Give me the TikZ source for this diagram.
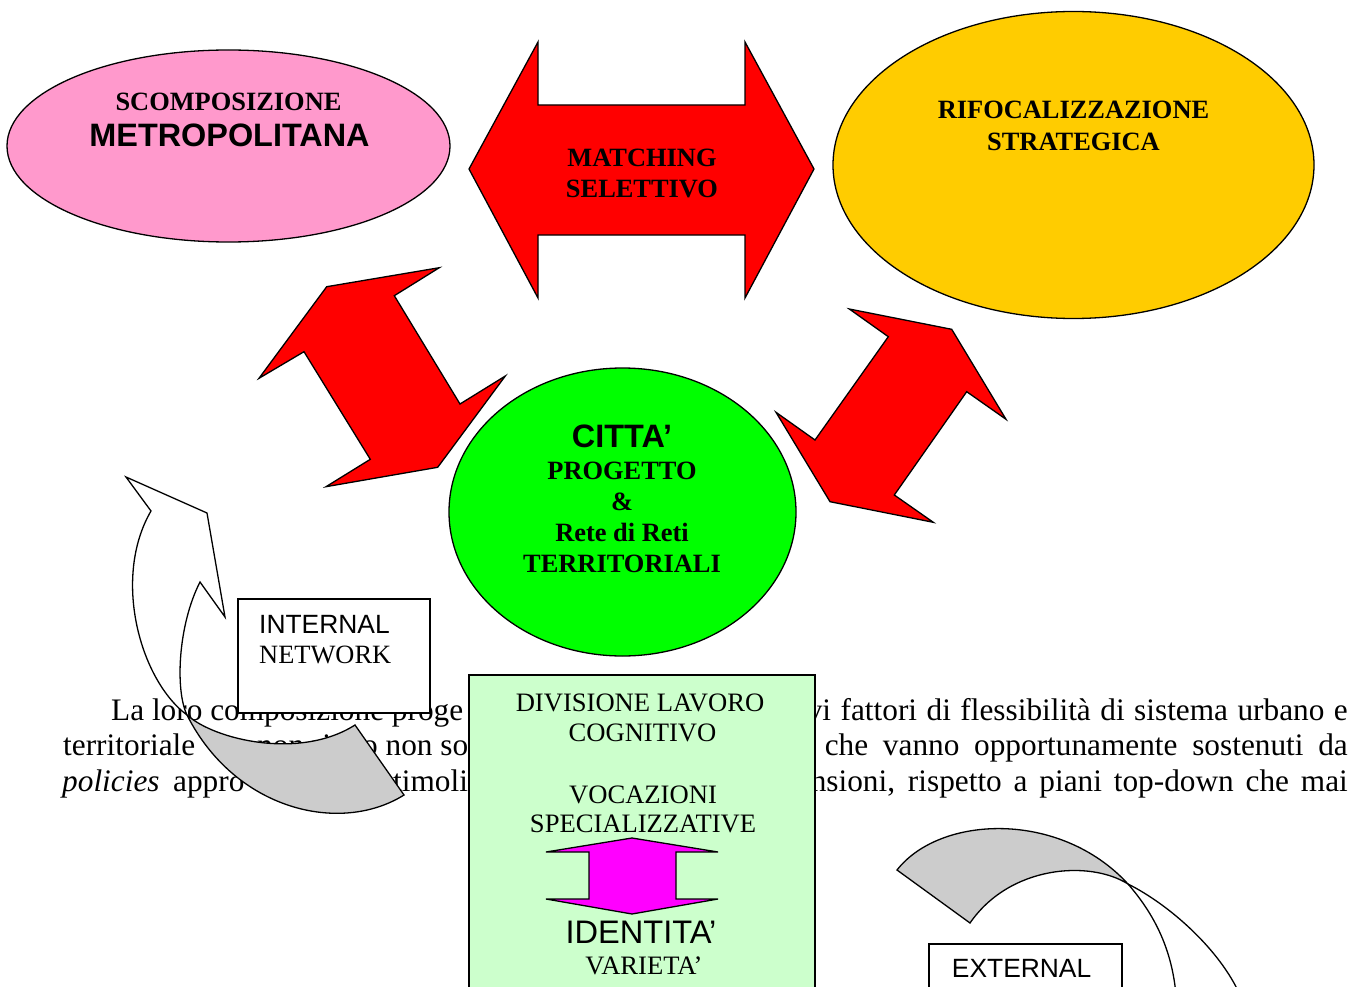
\documentclass[tikz,border=0pt]{standalone}
\usepackage{fontspec}
\setmainfont{Liberation Serif}
\newfontfamily\arialf{Liberation Sans}
\usetikzlibrary{shapes.geometric}
\definecolor{pinkf}{HTML}{FF99CC}
\definecolor{yellowf}{HTML}{FFCC00}
\definecolor{greenf}{HTML}{00FF00}
\definecolor{lgreenf}{HTML}{CCFFCC}
\definecolor{magentaf}{HTML}{FF00FF}
\definecolor{grayf}{HTML}{CCCCCC}
\definecolor{redf}{HTML}{FF0000}
\begin{document}
\begin{tikzpicture}[x=1pt,y=-1pt,
  shp/.style={draw=black,line width=1.3pt,line join=miter},
  lbl/.style={anchor=base,inner sep=0pt,font=\fontsize{26.4}{30}\selectfont\bfseries},
  lbr/.style={anchor=base,inner sep=0pt,font=\fontsize{26.6}{30}\selectfont},
  big/.style={anchor=base,inner sep=0pt,font=\arialf\bfseries\fontsize{32.4}{36}\selectfont},
  sansr/.style={anchor=base west,inner sep=0pt,font=\arialf\fontsize{26.4}{30}\selectfont},
  body/.style={anchor=base west,inner sep=0pt,font=\fontsize{31.3}{36}\selectfont},
  bodyr/.style={anchor=base east,inner sep=0pt,font=\fontsize{31.3}{36}\selectfont},
]
\useasboundingbox (0,0) rectangle (1365,987);
\clip (0,0) rectangle (1365,987);

% background paragraph
\node[body] (p1a) at (111,720) {La loro composizione proge};
\node[bodyr] (p1b) at (1348,720) {\makebox[541pt][s]{vi fattori di flessibilità di sistema urbano e}};
\node[body] (p2a) at (63,755) {territoriale};
\node[body] (p2b) at (257,755) {non ri};
\node[body] (p2c) at (362,755) {o non so};
\node[bodyr] (p2d) at (1348,755) {\makebox[523pt][s]{che vanno opportunamente sostenuti da}};
\node[body] (p3a) at (62,791) {\itshape policies};
\node[body] (p3b) at (173,791) {appro};
\node[body] (p3c) at (393,791) {timoli};
\node[bodyr] (p3d) at (1348,791) {\makebox[537pt][s]{nsioni, rispetto a piani top-down che mai}};

% ellipses
\node[shp,fill=pinkf,ellipse,minimum width=443pt,minimum height=192pt,inner sep=0pt] (scomp) at (228.5,146) {};
\node[shp,fill=yellowf,ellipse,minimum width=481pt,minimum height=307pt,inner sep=0pt] (rifo) at (1073.5,165) {};
\node[shp,fill=greenf,ellipse,minimum width=347pt,minimum height=288pt,inner sep=0pt] (citta) at (622.5,512) {};

% red double arrows
\draw[shp,fill=redf] (469,169) -- (538,42) -- (538,105) -- (745,105) -- (745,42) -- (814,169)
  -- (745,298) -- (745,235) -- (538,235) -- (538,298) -- cycle;
\draw[shp,fill=redf] (326.7,286.7) -- (439.3,267.7) -- (394.3,295.7) -- (460,404) -- (505.3,376)
  -- (437.7,467.3) -- (326,486.7) -- (370.3,459.3) -- (304,351.7) -- (259,378.3) -- cycle;
\draw[shp,fill=redf] (849.3,309) -- (951.7,329.3) -- (1006,419.3) -- (966.7,391.7) -- (894.3,495)
  -- (933.3,522.3) -- (830,501.7) -- (776,412.3) -- (815,440) -- (888.3,336.7) -- cycle;

% internal curved arrow
\draw[shp,fill=white] (151,511) .. controls (112,578) and (140,680) .. (187,715)
  .. controls (175,690) and (178,625) .. (200,582) -- (225,617) -- (207,513) -- (126,477) -- cycle;
\draw[shp,fill=grayf] (187,715) .. controls (215,740) and (300,760) .. (355,725) -- (404,795)
  .. controls (340,835) and (235,810) .. (187,715) -- cycle;

% internal network box
\node[shp,fill=white,minimum width=192pt,minimum height=114pt,inner sep=0pt] (intbox) at (334,656) {};
\node[sansr] (intA) at (259,633.5) {INTERNAL};
\node[body,font=\fontsize{26.4}{30}\selectfont] (intB) at (259,663) {NETWORK};

% light green box
\node[shp,fill=lgreenf,minimum width=346pt,minimum height=330pt,inner sep=0pt] (divbox) at (642,840) {};
\node[lbr] (d1) at (640,711) {DIVISIONE LAVORO};
\node[lbr] (d2) at (642.5,741) {COGNITIVO};
\node[lbr] (d3) at (643,803) {VOCAZIONI};
\node[lbr] (d4) at (643,832) {SPECIALIZZATIVE};
\draw[shp,fill=magentaf] (546,852) -- (632,838) -- (718,852) -- (676,852) -- (676,899) -- (718,899)
  -- (632,914) -- (546,899) -- (589,899) -- (589,852) -- cycle;
\node[anchor=base,inner sep=0pt,font=\arialf\fontsize{32.6}{36}\selectfont] (d5) at (641,943) {IDENTITA’};
\node[lbr] (d6) at (644,974) {VARIETA’};

% external curved arrow
\draw[shp,fill=grayf] (897,870) .. controls (940,815) and (1060,810) .. (1128,884)
  .. controls (1090,860) and (1010,865) .. (970,923) -- cycle;
\coordinate (ex1) at (1176,995);
\coordinate (ex2) at (1240,995);
\draw[shp] (1128,884) .. controls (1155,915) and (1172,950) .. (ex1);
\draw[shp] (1128,884) .. controls (1170,905) and (1220,950) .. (ex2);

% external box
\node[shp,fill=white,minimum width=193pt,minimum height=100pt,inner sep=0pt] (extbox) at (1025.5,994) {};
\node[sansr] (extA) at (951.7,977) {EXTERNAL};

% labels
\node[lbl] (s1) at (228.5,111) {SCOMPOSIZIONE};
\node[big] (s2) at (229.5,146.5) {METROPOLITANA};
\node[lbl] (m1) at (642,167) {MATCHING};
\node[lbl] (m2) at (642,197) {SELETTIVO};
\node[lbl] (r1) at (1073.5,119) {RIFOCALIZZAZIONE};
\node[lbl] (r2) at (1073.5,151) {STRATEGICA};
\node[big] (c1) at (622,447) {CITTA’};
\node[lbl] (c2) at (622,479) {PROGETTO};
\node[lbl] (c3) at (622,510) {\&};
\node[lbl] (c4) at (622,541) {Rete di Reti};
\node[lbl] (c5) at (622,572) {TERRITORIALI};
\end{tikzpicture}
\end{document}
